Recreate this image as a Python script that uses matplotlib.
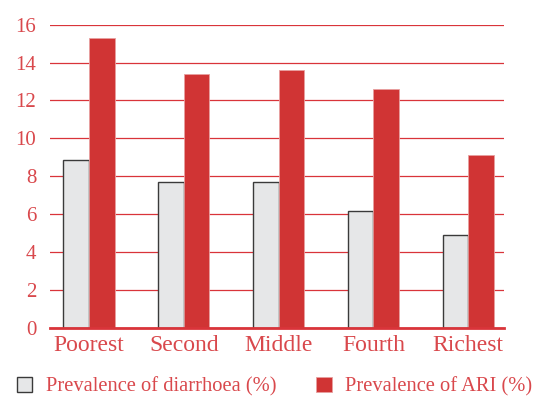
import matplotlib.pyplot as plt
import numpy as np

quintiles = ['Poorest', 'Second', 'Middle', 'Fourth', 'Richest']
diarrhoea = [8.85, 7.7, 7.7, 6.15, 4.9]
ari = [15.3, 13.4, 13.6, 12.6, 9.1]

red = '#d03434'
grid_red = '#d9343a'
text_red = '#d9484c'

plt.rcParams['font.family'] = ['Liberation Serif', 'DejaVu Serif']

fig = plt.figure(figsize=(5.33, 3.97), dpi=100)
ax = fig.add_axes([0.094, 0.174, 0.852, 0.764])

x = np.arange(len(quintiles))
w = 0.27
ax.bar(x - w / 2, diarrhoea, w, color='#e6e7e8', edgecolor='#3a3a3a',
       linewidth=1, label='Prevalence of diarrhoea (%)', zorder=3)
ax.bar(x + w / 2, ari, w, color=red, edgecolor='#e8a0a0',
       linewidth=0.6, label='Prevalence of ARI (%)', zorder=3)

ax.set_ylim(0, 16)
ax.set_xlim(-0.41, 4.38)
ax.set_yticks(range(0, 17, 2))
ax.set_xticks(x)
ax.set_xticklabels(quintiles, fontsize=17)
ax.yaxis.grid(True, color=grid_red, linewidth=0.9, zorder=0)
ax.set_axisbelow(True)
for s in ['top', 'right', 'left']:
    ax.spines[s].set_visible(False)
ax.spines['bottom'].set_color(grid_red)
ax.spines['bottom'].set_linewidth(2)
ax.spines['bottom'].set_zorder(4)
ax.tick_params(axis='both', length=0, labelcolor=text_red)
ax.tick_params(axis='y', pad=10, labelsize=15)
ax.tick_params(axis='x', pad=5)

fig.legend(loc='lower left', bbox_to_anchor=(-0.003, -0.045), ncol=2,
           frameon=False, fontsize=14.8, labelcolor=text_red,
           handlelength=0.75, handleheight=0.75, handletextpad=0.65,
           columnspacing=1.95)

fig.savefig('out.png', dpi=100)
